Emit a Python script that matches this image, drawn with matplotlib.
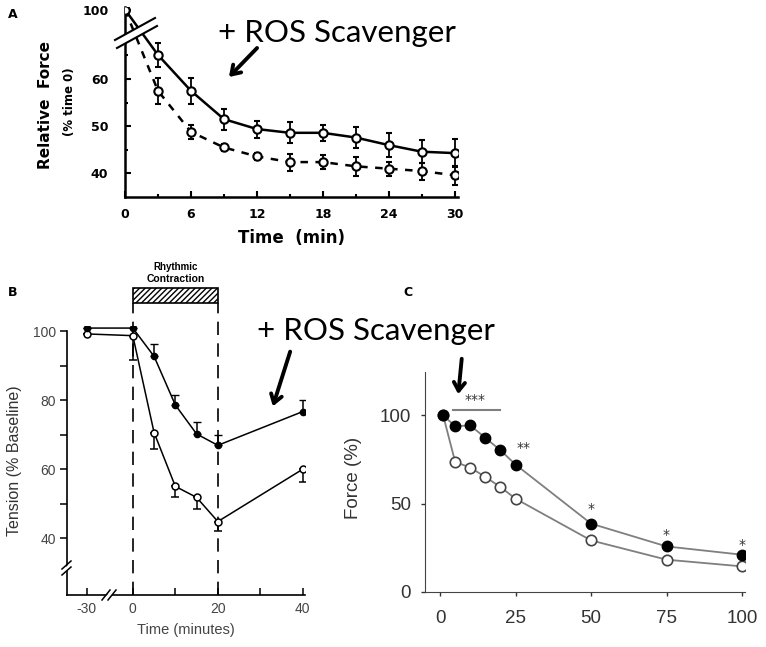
import numpy as np
import matplotlib
matplotlib.use("Agg")
import matplotlib.pyplot as plt
from matplotlib.patches import Rectangle, Polygon

plt.rcParams["axes.unicode_minus"] = False

W, H = 766, 647

# ---- panel A data ----
a_time = [0, 3, 6, 9, 12, 15, 18, 21, 24, 27, 30]
a_scav = [100, 65.1, 57.5, 51.5, 49.4, 48.6, 48.6, 47.6, 46.0, 44.6, 44.3]
a_scav_err = [0, 2.5, 2.7, 2.2, 1.8, 2.2, 1.7, 2.2, 2.5, 2.5, 3.0]
a_ctrl = [100, 57.5, 48.8, 45.5, 43.6, 42.4, 42.4, 41.5, 41.0, 40.5, 39.6]
a_ctrl_err = [0, 2.8, 1.5, 0.8, 0.8, 1.8, 1.5, 2.0, 1.5, 1.8, 2.0]

# ---- panel B data ----
b_time = [-30, 0, 5, 10, 15, 20, 40]
b_scav = [100.9, 100.9, 92.7, 78.6, 70.2, 66.9, 76.7]
b_scav_up = [0, 4.3, 3.6, 2.9, 3.6, 2.9, 3.4]
b_ctrl = [99.2, 98.7, 70.6, 55.0, 51.8, 44.8, 60.0]
b_ctrl_dn = [0, 7.1, 4.7, 3.0, 3.4, 2.8, 3.6]

# ---- panel C data ----
c_x = [1, 5, 10, 15, 20, 25, 50, 75, 100]
c_scav = [100, 93.8, 94.3, 87.2, 80.2, 72.1, 38.7, 25.8, 21.1]
c_ctrl = [100, 73.6, 70.4, 65.1, 59.4, 52.8, 29.2, 18.3, 14.5]


def fx(x):
    return x / W


def fy(y):
    return 1 - y / H


def px_axes(l, t, r, b):
    return fig.add_axes([fx(l), fy(b), (r - l) / W, (b - t) / H])


def fig_line(ax, xs, ys, **kw):
    ax.plot([fx(x) for x in xs], [fy(y) for y in ys], transform=fig.transFigure,
            clip_on=False, **kw)


def fig_gap(ax, pts):
    ax.add_patch(Polygon([(fx(x), fy(y)) for x, y in pts], closed=True, fc="white",
                         ec="none", transform=fig.transFigure, clip_on=False, zorder=9))


fig = plt.figure(figsize=(W / 100, H / 100), dpi=100)

ros_font = "Lato"

# ================= Panel A =================
def fwd_a(v):
    v = np.asarray(v, float)
    return np.where(v > 70, 70 + (v - 70) * 0.157, v)


def inv_a(u):
    u = np.asarray(u, float)
    return np.where(u > 70, 70 + (u - 70) / 0.157, u)


axA = px_axes(125, 7, 458, 197)
axA.set_yscale("function", functions=(fwd_a, inv_a))
axA.errorbar(a_time, a_scav, yerr=a_scav_err, color="black", lw=1.8, marker="o", ms=6,
             mfc="white", mec="black", mew=1.5, capsize=2.5, elinewidth=1.3, zorder=3)
axA.errorbar(a_time, a_ctrl, yerr=a_ctrl_err, color="black", lw=1.8, ls=(0, (3, 3)),
             marker="o", ms=6, mfc="white", mec="black", mew=1.5, capsize=2.5,
             elinewidth=1.3, zorder=3)
axA.set_xlim(0, 30.3)
axA.set_ylim(35.0, 103.5)
axA.set_xticks([0, 6, 12, 18, 24, 30])
axA.set_xticks([3, 9, 15, 21, 27], minor=True)
axA.set_yticks([40, 50, 60, 100])
axA.set_yticks([45, 55, 65], minor=True)
axA.set_yticklabels(["40", "50", "60", "100"])
axA.tick_params(which="both", direction="in", width=1.5, labelsize=9)
axA.tick_params(axis="y", which="major", length=4, pad=12)
axA.tick_params(axis="x", which="major", length=4, pad=8)
axA.tick_params(which="minor", length=2.5)
for lab in axA.get_xticklabels() + axA.get_yticklabels():
    lab.set_fontweight("bold")
axA.spines["top"].set_visible(False)
axA.spines["right"].set_visible(False)
axA.spines["left"].set_linewidth(1.8)
axA.spines["bottom"].set_linewidth(1.8)
axA.set_xlabel("Time  (min)", fontsize=12, fontweight="bold", labelpad=6)
fig.text(fx(46), fy(105), "Relative  Force", rotation=90, ha="center", va="center",
         fontsize=11, fontweight="bold")
fig.text(fx(70), fy(102), "(% time 0)", rotation=90, ha="center", va="center",
         fontsize=8.5, fontweight="bold")
# axis break
fig_gap(axA, [(117, 39), (152, 20), (156, 27), (121, 46)])
fig_line(axA, [115, 155], [40, 18], color="black", lw=1.5, zorder=10)
fig_line(axA, [117, 157], [48, 26], color="black", lw=1.5, zorder=10)

fig.text(fx(218), fy(41.7), "+ ROS Scavenger", fontsize=22.5, family=ros_font,
         ha="left", va="baseline")
axA.annotate("", xy=(fx(227), fy(79)), xytext=(fx(259), fy(46)), xycoords="figure fraction",
             arrowprops=dict(arrowstyle="->,head_length=0.6,head_width=0.4", lw=2.8,
                             color="black"))
fig.text(fx(8), fy(15), "A", fontsize=9, fontweight="bold", ha="left", va="center")

# ================= Panel B =================
def fwd_b(x):
    x = np.asarray(x, float)
    return np.where(x < 0, x * 0.36, x)


def inv_b(u):
    u = np.asarray(u, float)
    return np.where(u < 0, u / 0.36, u)


axB = px_axes(67, 326, 305, 595)
axB.set_xscale("function", functions=(fwd_b, inv_b))
axB.errorbar(b_time, b_ctrl, yerr=[b_ctrl_dn, np.zeros(len(b_ctrl))], color="black", lw=1.1,
             marker="o", ms=5, mfc="white", mec="black", mew=1.1, capsize=3,
             elinewidth=1.1, zorder=3)
axB.errorbar(b_time, b_scav, yerr=[np.zeros(len(b_scav)), b_scav_up], color="black", lw=1.1,
             marker="o", ms=4.5, mfc="black", mec="black", capsize=3, elinewidth=1.1,
             zorder=4)
axB.set_xlim(-43, 40.5)
axB.set_ylim(23.5, 101.5)
axB.spines["left"].set_bounds(23.5, 100)
for xv in [0, 20]:
    axB.plot([xv, xv], [23.5, 108.1], color="black", lw=1.2, ls=(0, (8, 5)), clip_on=False,
             zorder=2)
axB.add_patch(Rectangle((0, 108.1), 20, 4.4, fc="white", ec="black", lw=1.2,
                        hatch="//////", clip_on=False))
axB.text(10, 118.6, "Rhythmic", ha="center", va="center", fontsize=7, fontweight="bold",
         family="Liberation Sans", clip_on=False)
axB.text(10, 115.2, "Contraction", ha="center", va="center", fontsize=7.5,
         fontweight="bold", family="Liberation Sans", clip_on=False)
axB.set_xticks([-30, 0, 20, 40])
axB.set_xticks([10, 30], minor=True)
axB.set_yticks([40, 60, 80, 100])
axB.set_yticks([50, 70, 90], minor=True)
axB.tick_params(axis="x", which="both", direction="in", length=5, width=1.1, pad=5,
                labelsize=10, labelcolor="#444444")
axB.tick_params(axis="y", which="both", direction="out", length=5, width=1.1, pad=3,
                labelsize=10, labelcolor="#444444")
for lab in axB.get_xticklabels() + axB.get_yticklabels():
    lab.set_family("Liberation Sans")
axB.spines["top"].set_visible(False)
axB.spines["right"].set_visible(False)
axB.spines["left"].set_linewidth(1.2)
axB.spines["bottom"].set_linewidth(1.2)
axB.set_xlabel("Time (minutes)", fontsize=10.5, color="#444444", family="Liberation Sans",
               labelpad=5)
axB.set_ylabel("Tension (% Baseline)", fontsize=11.5, color="#333333",
               family="Liberation Sans", labelpad=8)
# axis breaks
fig_gap(axB, [(104, 598), (111, 591), (116, 591), (109, 598)])
fig_line(axB, [102, 110], [600, 590], color="black", lw=1.1, zorder=10)
fig_line(axB, [108, 116], [600, 590], color="black", lw=1.1, zorder=10)
fig_gap(axB, [(65, 568), (69, 564), (69, 569), (65, 573)])
fig_line(axB, [62, 71], [569, 561], color="black", lw=1.1, zorder=10)
fig_line(axB, [62, 71], [575, 567], color="black", lw=1.1, zorder=10)

fig.text(fx(257), fy(340), "+ ROS Scavenger", fontsize=22.5, family=ros_font,
         ha="left", va="baseline")
axB.annotate("", xy=(fx(272), fy(409)), xytext=(fx(291), fy(349)), xycoords="figure fraction",
             arrowprops=dict(arrowstyle="->,head_length=0.6,head_width=0.4", lw=2.8,
                             color="black"))
fig.text(fx(8), fy(292), "B", fontsize=9, fontweight="bold", ha="left", va="center")

# ================= Panel C =================
axC = px_axes(425, 372, 745, 592)
gray = "#7f7f7f"
axC.plot(c_x, c_ctrl, color=gray, lw=1.3, marker="o", ms=7.5, mfc="white", mec="#444444",
         mew=1.2, zorder=3)
axC.plot(c_x, c_scav, color=gray, lw=1.3, marker="o", ms=7.5, mfc="black", mec="black",
         zorder=4)
axC.set_xlim(-5, 101)
axC.set_ylim(0, 124.5)
axC.set_xticks([0, 25, 50, 75, 100])
axC.set_yticks([0, 50, 100])
axC.tick_params(axis="x", direction="out", length=3, width=1, pad=10, labelsize=13.5,
                colors="#333333")
axC.tick_params(axis="y", direction="out", length=3, width=1, pad=7, labelsize=13.5,
                colors="#333333")
for lab in axC.get_xticklabels() + axC.get_yticklabels():
    lab.set_family("Liberation Sans")
axC.spines["top"].set_visible(False)
axC.spines["right"].set_visible(False)
axC.spines["left"].set_color("#444444")
axC.spines["bottom"].set_color("#444444")
fig.text(fx(354), fy(478), "Force (%)", rotation=90, ha="center", va="center",
         fontsize=13.5, family="Liberation Sans", color="#333333")
axC.plot([4.4, 19.9], [103.2, 103.2], color=gray, lw=1.5)
axC.text(11.6, 108.5, "***", ha="center", va="center", fontsize=10, color="#333333")
axC.text(27.5, 81.5, "**", ha="center", va="center", fontsize=10, color="#333333")
axC.text(50, 47, "*", ha="center", va="center", fontsize=10, color="#333333")
axC.text(75, 32, "*", ha="center", va="center", fontsize=10, color="#333333")
axC.text(100, 26.5, "*", ha="center", va="center", fontsize=10, color="#333333")
axC.annotate("", xy=(fx(458), fy(397)), xytext=(fx(462), fy(356)), xycoords="figure fraction",
             arrowprops=dict(arrowstyle="->,head_length=0.6,head_width=0.4", lw=2.8,
                             color="black"))
fig.text(fx(403), fy(292), "C", fontsize=9, fontweight="bold", ha="left", va="center")

fig.savefig("out.png", dpi=100)
